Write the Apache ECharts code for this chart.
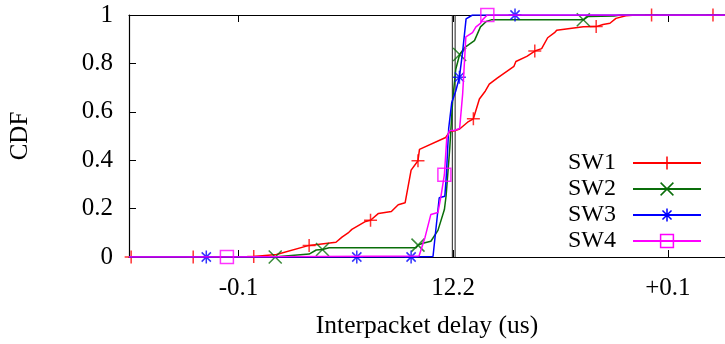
<!DOCTYPE html>
<html>
<head>
<meta charset="utf-8">
<script src="https://cdn.jsdelivr.net/npm/echarts@6/dist/echarts.min.js"></script>
<style>
  html, body { margin: 0; padding: 0; background: #fff; }
  #chart { width: 725px; height: 344px; }
</style>
</head>
<body>
<div id="chart"></div>
<script>
// Interpacket delay CDFs, x in microseconds relative to 12.2 us
const seriesNames = ['SW1', 'SW2', 'SW3', 'SW4'];

const sw1 = [
  [-0.151, 0], [-0.15, 0], [-0.1211, 0], [-0.0929, 0.002], [-0.0823, 0.010],
  [-0.0671, 0.048], [-0.0546, 0.061], [-0.0518, 0.082], [-0.0486, 0.102], [-0.0472, 0.114],
  [-0.0408, 0.147], [-0.0385, 0.152], [-0.0348, 0.180], [-0.0288, 0.188], [-0.0256, 0.216],
  [-0.0224, 0.224], [-0.0196, 0.359], [-0.0164, 0.398], [-0.0157, 0.445], [-0.0035, 0.494],
  [-0.0016, 0.518], [0.0007, 0.522], [0.0030, 0.529], [0.0067, 0.557], [0.0094, 0.571],
  [0.0122, 0.653], [0.0150, 0.686], [0.0168, 0.714], [0.0205, 0.739], [0.0283, 0.788],
  [0.0292, 0.808], [0.0343, 0.829], [0.0380, 0.851], [0.0412, 0.861], [0.0440, 0.906],
  [0.0472, 0.927], [0.0482, 0.937], [0.0606, 0.951], [0.0666, 0.952], [0.0698, 0.961],
  [0.0730, 0.966], [0.0758, 0.986], [0.0804, 0.997], [0.0850, 1], [0.0924, 1],
  [0.1210, 1], [0.1300, 1]
];
const sw1Marks = [1, 2, 3, 5, 11, 17, 24, 32, 38, 44, 45];

const sw2 = [
  [-0.151, 0], [-0.0829, 0], [-0.0809, 0.002], [-0.0671, 0.012], [-0.0638, 0.029],
  [-0.0609, 0.031], [-0.0578, 0.038], [-0.0173, 0.038], [-0.0164, 0.049], [-0.0141, 0.057],
  [-0.0104, 0.065], [-0.0071, 0.110], [-0.0041, 0.196], [-0.0033, 0.253], [-0.0016, 0.449],
  [-0.0002, 0.653], [0.0012, 0.776], [0.0030, 0.837], [0.0053, 0.865], [0.0099, 0.894],
  [0.0127, 0.951], [0.0154, 0.973], [0.0177, 0.980], [0.0606, 0.980], [0.0629, 0.994],
  [0.0749, 0.996], [0.0781, 1], [0.1300, 1]
];
const sw2Marks = [1, 5, 8, 17, 23];

const sw3 = [
  [-0.151, 0], [-0.1150, 0], [-0.0449, 0], [-0.0196, 0], [-0.0094, 0.002],
  [-0.0065, 0.245], [-0.0039, 0.251], [-0.0032, 0.335], [-0.0021, 0.531], [-0.0007, 0.637],
  [0.0012, 0.686], [0.0029, 0.743], [0.0044, 0.849], [0.0060, 0.984], [0.0090, 1],
  [0.0288, 1], [0.1300, 1]
];
const sw3Marks = [1, 2, 3, 11, 15];

const sw4 = [
  [-0.151, 0], [-0.1054, 0], [-0.0159, 0.004], [-0.0131, 0.082], [-0.0104, 0.176],
  [-0.0071, 0.184], [-0.0058, 0.245], [-0.0041, 0.340], [-0.0030, 0.490], [-0.0018, 0.522],
  [0.0007, 0.524], [0.0030, 0.531], [0.0044, 0.673], [0.0059, 0.910], [0.0090, 0.927],
  [0.0106, 0.951], [0.0127, 0.965], [0.0136, 0.980], [0.0159, 1], [0.1300, 1]
];
const sw4Marks = [1, 7, 18];

const xTickValues = [-0.1, 0, 0.1];
const xTickLabels = ['-0.1', '12.2', '+0.1'];
const yTickLabels = ['0', '0.2', '0.4', '0.6', '0.8', '1'];
// pair of reference rules bracketing 12.2 us
const refLines = [-0.0004, 0.0009];

const FONT = "'Liberation Serif', 'Times New Roman', serif";
const colors = ['#ff0000', '#0a6e0a', '#0000ff', '#ff00ff'];
const symbols = [
  'path://M0,6.5H13M6.5,0V13',
  'path://M0,0L13,13M13,0L0,13',
  'path://M6.5,0V13M0,6.5H13M1.9,1.9L11.1,11.1M11.1,1.9L1.9,11.1',
  'path://M0,0H13V13H0Z'
];
const lines = [sw1, sw2, sw3, sw4];
const marks = [sw1Marks, sw2Marks, sw3Marks, sw4Marks];

const X_MIN = -0.151, X_MAX = 0.1266;

function tickLabel(v) {
  let best = 0;
  xTickValues.forEach((t, i) => { if (Math.abs(t - v) < Math.abs(xTickValues[best] - v)) best = i; });
  return xTickLabels[best];
}

const series = [];

// vertical rules at 12.2 us, drawn beneath the curves
refLines.forEach(v => {
  series.push({
    type: 'line',
    data: [[v, 0], [v, 1]],
    showSymbol: false,
    symbol: 'none',
    lineStyle: { color: '#222', width: 1 },
    silent: true,
    animation: false,
    z: 1
  });
});

lines.forEach((pts, i) => {
  series.push({
    name: seriesNames[i],
    type: 'line',
    data: pts,
    showSymbol: false,
    symbol: symbols[i],
    symbolSize: 13,
    lineStyle: { color: colors[i], width: 1.5 },
    itemStyle: { color: 'transparent', borderColor: colors[i], borderWidth: 1.5 },
    silent: true,
    animation: false,
    z: 2 + i
  });
  series.push({
    name: seriesNames[i],
    type: 'scatter',
    data: marks[i].map(k => pts[k]),
    symbol: symbols[i],
    symbolSize: 13,
    clip: false,
    itemStyle: { color: 'transparent', borderColor: colors[i], borderWidth: 1.5 },
    silent: true,
    animation: false,
    z: 2 + i
  });
});

const chart = echarts.init(document.getElementById('chart'), null, { renderer: 'canvas' });
chart.setOption({
  animation: false,
  backgroundColor: '#fff',
  textStyle: { fontFamily: FONT, color: '#000' },
  grid: { left: 128, top: 15, bottom: 84, width: 602 },
  legend: {
    data: seriesNames,
    orient: 'vertical',
    align: 'right',
    right: 23,
    top: 151,
    padding: 0,
    itemGap: 2,
    itemWidth: 68,
    itemHeight: 16,
    selectedMode: false,
    formatter: n => n + '  ',
    textStyle: { fontFamily: FONT, fontSize: 24, color: '#000', lineHeight: 24 },
    itemStyle: { color: 'transparent', borderWidth: 1.5 }
  },
  xAxis: [
    {
      type: 'value',
      position: 'bottom',
      min: X_MIN,
      max: X_MAX,
      name: 'Interpacket delay (us)',
      nameLocation: 'middle',
      nameGap: 56,
      nameTextStyle: { fontFamily: FONT, fontSize: 25.5, color: '#000' },
      axisLine: { show: true, onZero: false, lineStyle: { color: '#000', width: 1.2 } },
      axisTick: { show: true, inside: true, length: 7, customValues: xTickValues, lineStyle: { color: '#000' } },
      axisLabel: { customValues: xTickValues, formatter: tickLabel, margin: 19, fontFamily: FONT, fontSize: 25, color: '#000' },
      splitLine: { show: false }
    },
    {
      type: 'value',
      position: 'top',
      min: X_MIN,
      max: X_MAX,
      axisLine: { show: true, onZero: false, lineStyle: { color: '#000', width: 1.2 } },
      axisTick: { show: true, inside: true, length: 7, customValues: xTickValues, lineStyle: { color: '#000' } },
      axisLabel: { show: false },
      splitLine: { show: false }
    }
  ],
  yAxis: {
    type: 'value',
    min: 0,
    max: 1,
    interval: 0.2,
    name: 'CDF',
    nameLocation: 'middle',
    nameGap: 96,
    nameRotate: 90,
    nameTextStyle: { fontFamily: FONT, fontSize: 25, color: '#000' },
    axisLine: { show: true, onZero: false, lineStyle: { color: '#000', width: 1.2 } },
    axisTick: { show: true, inside: true, length: 7, lineStyle: { color: '#000' } },
    axisLabel: { margin: 16, fontFamily: FONT, fontSize: 25, color: '#000',
      formatter: v => yTickLabels[Math.round(v * 5)] },
    splitLine: { show: false }
  },
  series: series
});
</script>
</body>
</html>
